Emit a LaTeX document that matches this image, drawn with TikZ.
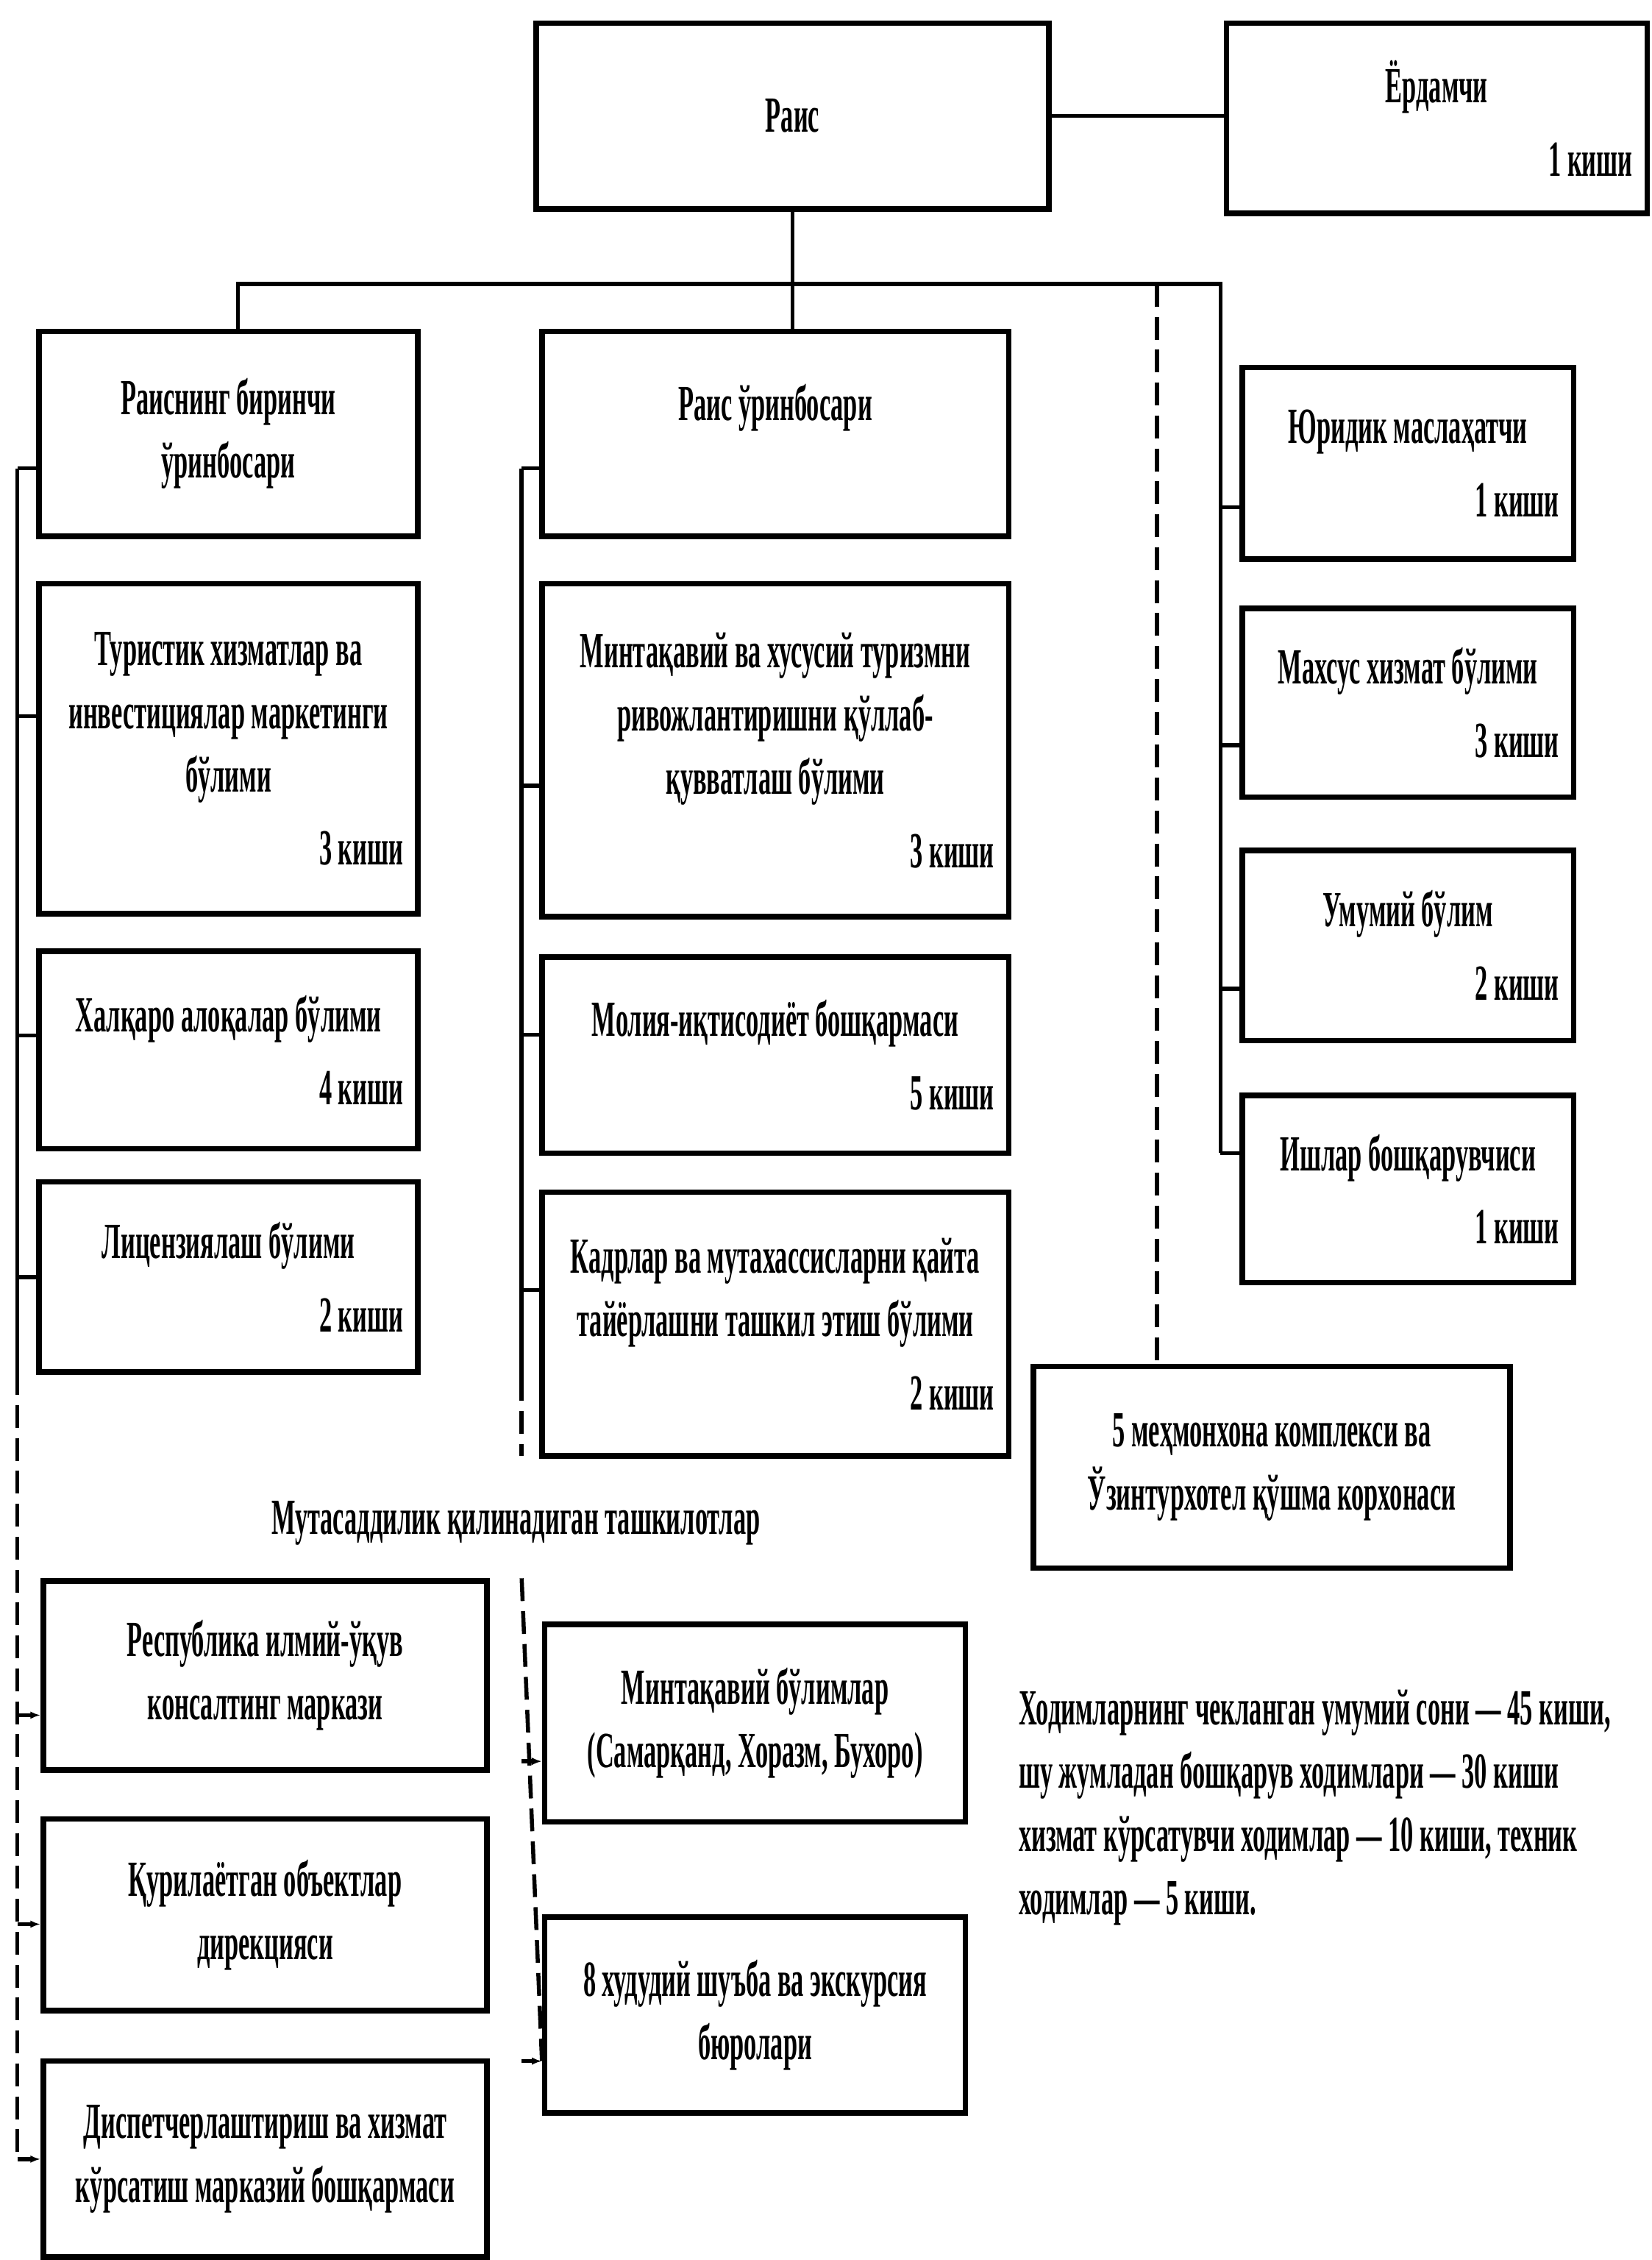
\documentclass[tikz,border=0pt]{standalone}
\usepackage{fontspec}
\setmainfont{Liberation Serif}[FakeStretch=0.5]
\usetikzlibrary{arrows.meta}
\newcommand{\kishi}[2][0.44cm]{\\[4pt]\hfill#2~киши\hspace*{#1}}

\begin{document}
\begin{tikzpicture}[x=0.02cm, y=-0.02cm]
\tikzset{box/.style ={draw, line width=2.2pt, inner xsep=0.2cm, inner ysep=0pt, align=flush center, font=\fontsize{20}{25}\selectfont\bfseries}}
\tikzset{colL/.style ={box, text width=4.86cm}}
\tikzset{colM/.style ={box, text width=6.08cm}}
\tikzset{colR/.style ={box, text width=4.2cm}}
\tikzset{colB/.style ={box, minimum width=6.16cm}}
\tikzset{colC/.style ={box, minimum width=5.84cm}}
\tikzset{link/.style ={line width=1.6pt}}
\tikzset{dlink/.style ={line width=1.6pt, dash pattern=on 9pt off 4pt}}
\useasboundingbox (0,0) rectangle (1146,1568);

\node[box, minimum width=7.12cm, minimum height=2.58cm] (rais) at (550,80.5) {Раис};
\node[box, text width=5.44cm, minimum height=2.64cm] (yordam) at (997,82) {Ёрдамчи\kishi[0.86cm]{1}};

\node[colL, minimum height=2.84cm] (deputyA) at (158.5,301) {Раиснинг биринчи\\ўринбосари};
\node[colL, minimum height=4.58cm] (tourism) at (158.5,519.5) {Туристик хизматлар ва\\инвестициялар маркетинги\\бўлими\kishi{3}};
\node[colL, minimum height=2.74cm] (intl) at (158.5,728.5) {Халқаро алоқалар бўлими\kishi{4}};
\node[colL, minimum height=2.64cm] (licence) at (158.5,886) {Лицензиялаш бўлими\kishi{2}};

\node[colM, minimum height=2.84cm] (deputyB) at (538,301) {Раис ўринбосари\\~};
\node[colM, minimum height=4.62cm] (region) at (538,520.5) {Минтақавий ва хусусий туризмни\\ривожлантиришни қўллаб-\\қувватлаш бўлими\kishi[0.36cm]{3}};
\node[colM, minimum height=2.72cm] (finance) at (538,732) {Молия-иқтисодиёт бошқармаси\kishi[0.36cm]{5}};
\node[colM, minimum height=3.66cm] (staff) at (538,918.5) {Кадрлар ва мутахассисларни қайта\\тайёрлашни ташкил этиш бўлими\kishi[0.36cm]{2}};

\node[colR, minimum height=2.66cm] (legal) at (977,321.5) {Юридик маслаҳатчи\kishi{1}};
\node[colR, minimum height=2.62cm] (special) at (977,487.5) {Махсус хизмат бўлими\kishi{3}};
\node[colR, minimum height=2.64cm] (general) at (977,656) {Умумий бўлим\kishi{2}};
\node[colR, minimum height=2.6cm] (affairs) at (977,825) {Ишлар бошқарувчиси\kishi{1}};

\node[box, minimum width=6.62cm, minimum height=2.8cm] (hotels) at (882.5,1018) {5 меҳмонхона комплекси ва\\Ўзинтурхотел қўшма корхонаси};

\node[box, draw=none] (subord) at (358,1057) {Мутасаддилик қилинадиган ташкилотлар};

\node[colB, minimum height=2.62cm] (consult) at (184,1162.5) {Республика илмий-ўқув\\консалтинг маркази};
\node[colB, minimum height=2.66cm] (construct) at (184,1328.5) {Қурилаётган объектлар\\дирекцияси};
\node[colB, minimum height=2.72cm] (dispatch) at (184,1498) {Диспетчерлаштириш ва хизмат\\кўрсатиш марказий бошқармаси};

\node[colC, minimum height=2.74cm] (branches) at (524,1195.5) {Минтақавий бўлимлар\\(Самарқанд, Хоразм, Бухоро)};
\node[colC, minimum height=2.72cm] (bureaus) at (524,1398) {8 худудий шуъба ва экскурсия\\бюролари};

\node[box, draw=none, align=left, anchor=west] (note) at (695,1254) {Ходимларнинг чекланган умумий сони — 45 киши,\\шу жумладан бошқарув ходимлари — 30 киши\\хизмат кўрсатувчи ходимлар — 10 киши, техник\\ходимлар — 5 киши.};

\coordinate (busL) at (165,197);
\coordinate (busR) at (847,197);
\coordinate (busD) at (803,197);
\coordinate (spL) at (12,952);
\coordinate (spM) at (362,956);
\coordinate (spMend) at (362,1010);
\coordinate (spMlow) at (362,1095);
\coordinate (topL) at ([yshift=-0.48cm]deputyA.west);
\coordinate (topM) at ([yshift=-0.48cm]deputyB.west);
\coordinate (endR) at ([yshift=0.5cm]affairs.west);
\coordinate (endM) at ([yshift=-0.64cm]bureaus.west);

\draw[link] (rais.east) -- (rais.east -| yordam.west);
\draw[link] (rais.south) -- (rais.south |- deputyB.north);
\draw[link] (busL |- deputyA.north) -- (busL) -- (busR) -- (busR |- endR);
\draw[dlink] (busD) -- (busD |- hotels.north);

\draw[link] (topL -| spL) -- (spL);
\draw[dlink] (spL) -- (spL |- dispatch.west);
\draw[link] (topM -| spM) -- (spM);
\draw[dlink] (spM) -- (spMend);
\draw[dlink] (spMlow) -- (endM);

\foreach \n/\s in {deputyA/-0.48, tourism/0.45, intl/0.2, licence/0}
  \draw[link] ([yshift=\s cm]\n.west) coordinate (t) -- (t -| spL);
\foreach \n/\s in {deputyB/-0.48, region/-0.49, finance/0.28, staff/0.47}
  \draw[link] ([yshift=\s cm]\n.west) coordinate (t) -- (t -| spM);
\foreach \n/\s in {legal/-0.61, special/-0.59, general/-0.6, affairs/0.5}
  \draw[link] ([yshift=\s cm]\n.west) coordinate (t) -- (t -| busR);
\foreach \n/\s in {consult/-0.55, construct/-0.13, dispatch/0}
  \draw[dlink, -{Latex[length=4pt]}] ([yshift=\s cm]\n.west) coordinate (t) (t -| spL) -- (t);
\foreach \n/\s in {branches/-0.53, bureaus/-0.64}
  \draw[dlink, -{Latex[length=4pt]}] ([yshift=\s cm]\n.west) coordinate (t) (t -| spM) -- (t);
\end{tikzpicture}
\end{document}
